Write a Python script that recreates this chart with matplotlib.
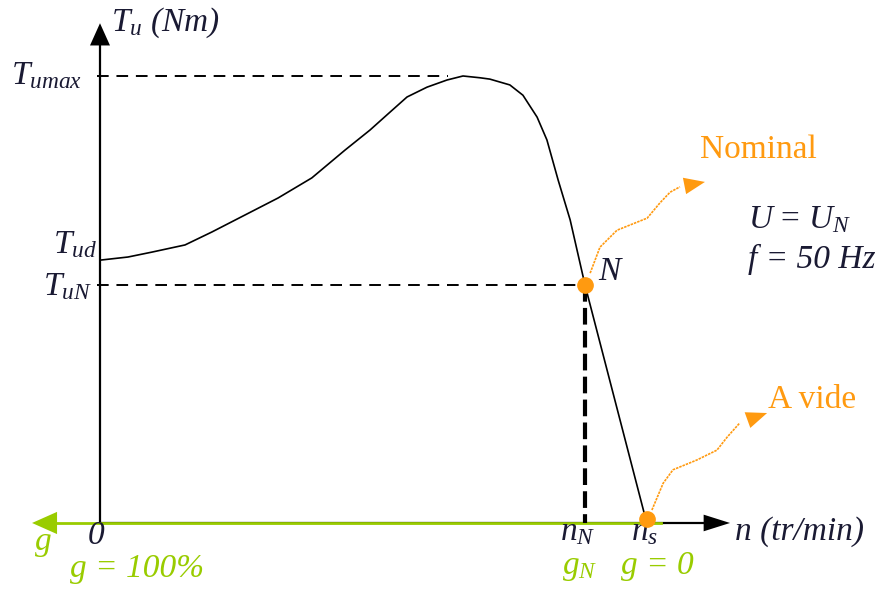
import matplotlib
matplotlib.use('Agg')
import matplotlib.pyplot as plt

plt.rcParams['font.family'] = 'Liberation Serif'
plt.rcParams['mathtext.fontset'] = 'custom'
plt.rcParams['mathtext.rm'] = 'Liberation Serif'
plt.rcParams['mathtext.it'] = 'Liberation Serif:italic'
plt.rcParams['mathtext.bf'] = 'Liberation Serif:bold'

# courbe couple-vitesse (n en tr/min, T en % de Tumax)
n_curve = [0, 77, 143, 234, 308, 399, 490, 583, 674, 743, 798, 845, 900,
           955, 999, 1046, 1073, 1128, 1164, 1203, 1230, 1261, 1294, 1335, 1500]
T_curve = [58.8, 59.5, 60.6, 62.2, 65.1, 68.9, 72.7, 77.2, 83.4, 87.9,
           91.9, 95.3, 97.5, 99.1, 100, 99.6, 99.3, 98.0, 95.7, 90.8, 85.7,
           76.7, 67.8, 53.2, 1.5]

n_N, n_s = 1335, 1500
T_max, T_N = 100, 53.2
n_peak = 999

# fleches ondulees orange
nom_n = [1349, 1376, 1423, 1506, 1541, 1569, 1596]
nom_T = [55.9, 61.7, 65.5, 68.2, 71.6, 74.0, 75.2]
nom_tip = (1665, 76.3)
vide_n = [1519, 1550, 1577, 1643, 1698, 1726, 1761]
vide_T = [2.9, 8.9, 11.9, 14.1, 16.3, 19.2, 22.4]
vide_tip = (1836, 24.6)

orange = '#FF9A10'
green = '#99CC00'
ink = '#1a1a33'

fig = plt.figure(figsize=(8.79, 5.89), dpi=100)
ax = fig.add_axes([0, 0, 1, 1])
ax.set_xlim(-275.2, 2144)
ax.set_ylim(-14.77, 117.0)
ax.axis('off')

head = dict(mutation_scale=20, lw=0, shrinkA=0, shrinkB=0)

# axes
ax.plot([0, 0], [0, 108], color='black', lw=1.6)
ax.annotate('', xy=(0, 111.8), xytext=(0, 106),
            arrowprops=dict(arrowstyle='-|>,head_length=0.8,head_width=0.36',
                            color='black', **head))
ax.plot([0, 1670], [0, 0], color='black', lw=1.6)
ax.annotate('', xy=(1734, 0), xytext=(1650, 0),
            arrowprops=dict(arrowstyle='-|>,head_length=0.95,head_width=0.3',
                            color='black', **head))
ax.plot([-120, 1545], [0, 0], color=green, lw=2)
ax.annotate('', xy=(-187, 0), xytext=(-100, 0),
            arrowprops=dict(arrowstyle='-|>,head_length=0.9,head_width=0.4',
                            color=green, **head))

# pointilles
ax.plot([-8, n_peak - 40], [T_max, T_max], color='black', lw=1.4,
        dashes=(6, 4))
ax.plot([-8, n_N], [T_N, T_N], color='black', lw=1.4, dashes=(6, 4))
ax.plot([n_N, n_N], [T_N, 0], color='black', lw=3, dashes=(4, 1.5))

# courbe
ax.plot(n_curve, T_curve, color='black', lw=1.2, solid_joinstyle='round')

# fleches orange
ax.plot(nom_n, nom_T, color=orange, lw=1.2, dashes=(1.5, 0.6))
ax.annotate('', xy=nom_tip, xytext=(nom_n[-1], nom_T[-1]),
            arrowprops=dict(arrowstyle='-|>,head_length=0.75,head_width=0.3',
                            color=orange, **head))
ax.plot(vide_n, vide_T, color=orange, lw=1.2, dashes=(1.5, 0.6))
ax.annotate('', xy=vide_tip, xytext=(vide_n[-1], vide_T[-1]),
            arrowprops=dict(arrowstyle='-|>,head_length=0.75,head_width=0.3',
                            color=orange, **head))

ax.plot([n_N, n_s + 5], [T_N, 0.8], 'o', color=orange, ms=11, zorder=5)

fs = 24
it = dict(fontsize=fs, style='italic')
ax.text(30, 112.0, r'$T_u$ (Nm)', color=ink, va='center', **it)
ax.text(-50, 98.1, r'$T_{umax}$', color=ink, ha='right', va='baseline', **it)
ax.text(-8, 60.4, r'$T_{ud}$', color=ink, ha='right', va='baseline', **it)
ax.text(-22, 51.0, r'$T_{uN}$', color=ink, ha='right', va='baseline', **it)
ax.text(-10, -4.8, '0', color=ink, ha='center', va='baseline', **it)
ax.text(-157, -6.0, 'g', color=green, ha='center', va='baseline', **it)
ax.text(-83, -12.0, 'g = 100%', color=green, va='baseline', **it)
ax.text(1316, -3.8, r'$n_N$', color=ink, ha='center', va='baseline', **it)
ax.text(1320, -11.4, r'$g_N$', color=green, ha='center', va='baseline', **it)
ax.text(1500, -3.8, r'$n_s$', color=ink, ha='center', va='baseline', **it)
ax.text(1533, -11.4, 'g = 0', color=green, ha='center', va='baseline', **it)
ax.text(1748, -3.8, 'n (tr/min)', color=ink, va='baseline', **it)
ax.text(1370, 54.4, 'N', color=ink, va='baseline', **it)
ax.text(1783, 66.0, r'$U\,=\,U_N$', color=ink, va='baseline', **it)
ax.text(1783, 57.0, 'f = 50 Hz', color=ink, va='baseline', **it)
ax.text(1651, 81.6, 'Nominal', fontsize=fs, color=orange, va='baseline')
ax.text(1838, 25.7, 'A vide', fontsize=fs, color=orange, va='baseline')

fig.savefig('out.png', dpi=100)
